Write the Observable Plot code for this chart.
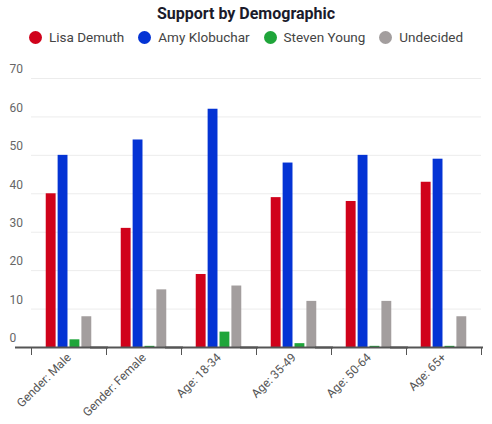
<!DOCTYPE html>
<html>
<head>
<meta charset="utf-8">
<script src="https://cdn.jsdelivr.net/npm/d3@7"></script>
<script src="https://cdn.jsdelivr.net/npm/@observablehq/plot@0.6"></script>
<style>
  html, body { margin: 0; padding: 0; background: #fff; }
  body { width: 492px; font-family: Roboto, "Noto Sans", sans-serif; }
  #title { height: 26px; line-height: 27px; text-align: center; font-weight: 700; font-size: 16px; color: #1b1b2b; }
  #legend { height: 22px; display: flex; justify-content: center; align-items: center; font-size: 13.5px; color: #444; padding-left: 0px; }
  .item { display: flex; align-items: center; margin: 0 7px; }
  .dot { width: 13px; height: 13px; border-radius: 50%; margin-right: 7px; }
  svg { display: block; }
</style>
</head>
<body>
<div id="title">Support by Demographic</div>
<div id="legend"></div>
<div id="chart"></div>
<script>
const categories = ["Gender: Male", "Gender: Female", "Age: 18-34", "Age: 35-49", "Age: 50-64", "Age: 65+"];
const candidates = ["Lisa Demuth", "Amy Klobuchar", "Steven Young", "Undecided"];
const colors = ["#d0021b", "#0433d4", "#1fa53a", "#a39e9e"];
const demuth = [40, 31, 19, 39, 38, 43];
const klobuchar = [50, 54, 62, 48, 50, 49];
const young = [2, 0.3, 4, 1, 0.3, 0.3];
const undecided = [8, 15, 16, 12, 12, 8];
const yTicks = [0, 10, 20, 30, 40, 50, 60, 70];

const series = [demuth, klobuchar, young, undecided];
const rows = candidates.flatMap((c, j) => categories.map((cat, i) => ({category: cat, candidate: c, value: series[j][i]})));

const legend = document.getElementById("legend");
candidates.forEach((c, j) => {
  const item = document.createElement("div");
  item.className = "item";
  const dot = document.createElement("span");
  dot.className = "dot";
  dot.style.background = colors[j];
  const label = document.createElement("span");
  label.textContent = c;
  item.appendChild(dot);
  item.appendChild(label);
  legend.appendChild(item);
});

const chart = Plot.plot({
  width: 492,
  height: 376,
  marginTop: 30,
  marginBottom: 77,
  marginLeft: 28,
  marginRight: 9,
  style: {fontFamily: "Roboto, sans-serif", fontSize: "12px", background: "white"},
  fx: {domain: categories, padding: 0, label: null, axis: null},
  x: {domain: candidates, paddingInner: 0.17, paddingOuter: 1.24, axis: null, round: false},
  y: {domain: [0, 70], label: null, axis: null},
  color: {domain: candidates, range: colors},
  marks: [
    Plot.gridY(yTicks.slice(1), {stroke: "#ececec", strokeOpacity: 1}),
    Plot.barY(rows, {fx: "category", x: "candidate", y: "value", fill: "candidate"}),
    Plot.ruleY([0], {stroke: "#555", strokeWidth: 2, insetLeft: -16, insetRight: -2}),
    Plot.frame({anchor: "left", stroke: "#555", insetTop: 269, insetBottom: -7}),
    Plot.frame({anchor: "right", stroke: "#555", insetTop: 269, insetBottom: -7}),
    Plot.axisY(yTicks, {tickSize: 0, textAnchor: "start", dx: -13, dy: -9, fill: "#666", fontSize: 12}),
    Plot.axisFx({anchor: "bottom", tickSize: 0, tickPadding: 8, tickRotate: -45, fontSize: 12, fill: "#555", label: null})
  ]
});
document.getElementById("chart").appendChild(chart);
</script>
</body>
</html>
